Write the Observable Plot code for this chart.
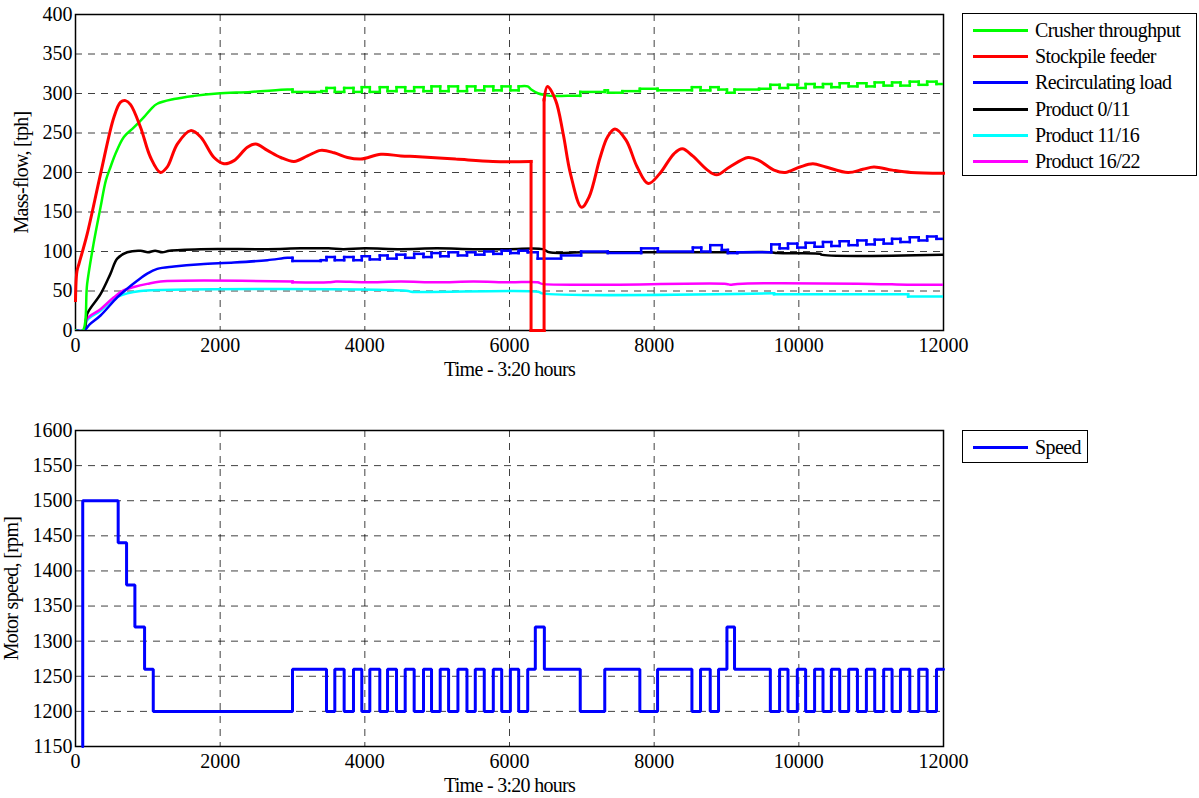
<!DOCTYPE html>
<html><head><meta charset="utf-8">
<script src="https://cdn.jsdelivr.net/npm/d3@7"></script>
<script src="https://cdn.jsdelivr.net/npm/@observablehq/plot@0.6"></script>
<style>
body{margin:0;background:#fff;font-family:"Liberation Serif","Times New Roman",serif;}
#wrap{position:relative;width:1199px;height:798px;overflow:hidden;}
#top{position:absolute;left:0;top:0;}
#bottom{position:absolute;left:0;top:385px;}
#wrap svg text{font-family:"Liberation Serif","Times New Roman",serif;fill:#000;}
#wrap svg g[aria-label$="tick label"] text{font-size:20px;letter-spacing:0px;}
#wrap svg g[aria-label$="axis label"] text{font-size:20px;letter-spacing:-0.7px;}
.legend{position:absolute;border:1.5px solid #000;background:#fff;font-size:20px;letter-spacing:-0.6px;box-sizing:border-box;padding-top:3px;}
.row{display:flex;align-items:center;height:26.3px;white-space:nowrap;}
.sw{width:55px;height:0;border-top:3px solid;margin-left:10px;margin-right:7px;}
</style></head>
<body><div id="wrap"><div id="top"></div><div id="bottom"></div><div class="legend" id="leg1"></div><div class="legend" id="leg2"></div></div>
<script>
// ---- tick values ----
const timeTicks = [0, 2000, 4000, 6000, 8000, 10000, 12000];
const flowTicks = [0, 50, 100, 150, 200, 250, 300, 350, 400];
const speedTicks = [1150, 1200, 1250, 1300, 1350, 1400, 1450, 1500, 1550, 1600];

// ---- series names ----
const flowSeries = ["Crusher throughput", "Stockpile feeder", "Recirculating load", "Product 0/11", "Product 11/16", "Product 16/22"];
const flowColors = ["#00ff00", "#ff0000", "#0000ff", "#000000", "#00ffff", "#ff00ff"];

// ---- values: [time, tph] (repeated time = vertical jump) ----
const crusherThroughput = [[0,0],[100,0],[161,59],[250,110],[346,156],[420,190],[484,207],[554,224],[669,245],[807,257],[946,270],[1040,280],[1130,287],[1361,293],[1638,297],[1961,300],[2422,302],[2930,305],[3000,305],
[3000,302],[3400,302],[3400,303],[3470,303],[3470,307],[3585,307],[3585,302],[3714,302],[3714,307],[3843,307],[3843,302],[3958,302],[3958,308],[4069,308],[4069,302],[4207,302],[4207,308],[4314,308],[4314,303],[4438,303],[4438,308],[4558,308],[4558,303],[4682,303],[4682,308],[4811,308],[4811,303],[4922,303],[4922,309],[5042,309],[5042,303],[5158,303],[5158,309],[5287,309],[5287,303],[5412,303],[5412,309],[5527,309],[5527,304],[5651,304],[5651,309],[5776,309],[5776,304],[5892,304],[5892,309],[6012,309],[6012,304],[6127,304],[6127,309],[6252,309],
[6300,305],[6400,300],[6500,298],[6560,297],[6800,297],[6978,297],[6978,302],[7317,302],[7317,304],[7360,304],[7360,301],[7560,301],[7560,303],[7802,303],[7802,306],[8047,306],[8047,304],[8522,304],[8522,308],[8641,308],[8641,304],[8775,304],[8775,308],[8890,308],[8890,305],[9006,305],[9006,301],[9111,301],[9111,305],[9450,305],[9450,306],[9606,306],
[9606,311],[9734,311],[9734,307],[9850,307],[9850,311],[9979,311],[9979,307],[10094,307],[10094,312],[10218,312],[10218,308],[10334,308],[10334,312],[10450,312],[10450,308],[10565,308],[10565,313],[10689,313],[10689,309],[10810,309],[10810,313],[10934,313],[10934,309],[11049,309],[11049,314],[11173,314],[11173,310],[11289,310],[11289,314],[11405,314],[11405,310],[11534,310],[11534,315],[11658,315],[11658,311],[11774,311],[11774,315],[11903,315],[11903,312],[12000,312]];

const stockpileFeeder = [[0,38],[20,75],[50,85],[161,122],[346,198],[531,270],[623,289],[692,291],[761,286],[900,257],[1038,219],[1176,200],[1269,207],[1407,236],[1592,253],[1730,245],[1915,219],[2053,211],[2191,215],[2376,232],[2491,236],[2653,228],[2838,219],[3022,214],[3207,221],[3391,228],[3576,225],[3760,219],[3945,217],[4222,223],[4498,221],[4747,220],[5258,217],[5770,214],[6298,214],[6298,0],[6478,0],[6478,292],[6525,309],[6639,291],[6742,249],[6844,198],[6997,156],[7100,169],[7253,219],[7355,245],[7458,255],[7611,241],[7765,207],[7918,186],[8072,198],[8276,224],[8389,230],[8532,221],[8737,203],[8864,197],[9043,207],[9299,219],[9453,215],[9657,203],[9811,200],[10015,207],[10194,211],[10373,207],[10680,200],[10885,204],[11038,207],[11294,203],[11550,200],[12000,199]];

const recirculatingLoad = [[0,0],[115,0],[200,8],[346,19],[577,42],[715,53],[853,63],[992,72],[1130,78],[1361,81],[1730,84],[2191,86],[2653,89],[2930,92],[3000,92],[3000,88],[3391,88],[3391,89],[3470,89],
[3470,93],[3585,93],[3585,89],[3714,89],[3714,93],[3843,93],[3843,89],[3958,89],[3958,94],[4069,94],[4069,90],[4207,90],[4207,95],[4314,95],[4314,91],[4438,91],[4438,96],[4558,96],[4558,92],[4682,92],[4682,97],[4811,97],[4811,93],[4922,93],[4922,98],[5042,98],[5042,94],[5158,94],[5158,99],[5287,99],[5287,95],[5412,95],[5412,99],[5527,99],[5527,96],[5651,96],[5651,100],[5776,100],[5776,97],[5892,97],[5892,101],[6012,101],[6012,98],[6127,98],[6127,101],[6252,101],[6252,99],[6390,99],[6390,91],[6713,91],[6713,95],[6990,95],[6990,100],[7359,100],[7359,98],[7820,98],[7820,104],[8051,104],[8051,100],[8535,100],[8535,105],[8651,105],[8651,100],[8775,100],[8775,108],[8935,108],[8935,102],[9019,102],[9019,98],[9150,98],[9150,99],[9619,99],
[9619,109],[9734,109],[9734,104],[9850,104],[9850,110],[9979,110],[9979,105],[10094,105],[10094,111],[10218,111],[10218,106],[10334,106],[10334,112],[10450,112],[10450,107],[10565,107],[10565,113],[10689,113],[10689,108],[10810,108],[10810,114],[10934,114],[10934,109],[11049,109],[11049,115],[11173,115],[11173,110],[11289,110],[11289,116],[11405,116],[11405,112],[11534,112],[11534,118],[11658,118],[11658,114],[11774,114],[11774,119],[11903,119],[11903,116],[12000,116]];

const product0_11 = [[0,0],[115,0],[161,21],[346,46],[484,72],[577,91],[715,99],[900,101],[1000,99],[1100,101],[1200,99],[1300,101],[1730,103],[2653,103],[3114,104],[3500,104],[3700,103],[4000,104],[4500,103],[5000,104],[5500,103],[6000,103],[6460,103],[6551,99],[7000,99],[7500,99],[8000,99],[8500,99],[9000,99],[9619,99],[9700,98],[10300,97],[10311,96],[12000,96]];

const product11_16 = [[0,0],[115,0],[161,13],[346,25],[531,40],[715,47],[900,50],[4600,50],[4640,49],[6400,49],[6450,47],[9657,47],[9657,46],[11511,46],[11511,43],[12000,43]];

const product16_22 = [[0,0],[115,0],[161,15],[346,27],[531,42],[669,51],[807,55],[992,59],[1176,62],[3000,62],[3000,61],[3500,61],[3600,62],[4000,61],[4500,62],[5000,61],[5500,62],[6000,61],[6390,61],[6450,59],[9000,59],[9050,58],[9150,59],[11000,59],[11500,58],[12000,58]];

// ---- motor speed: [time, rpm] (step-after) ----
const motorSpeed = [[100,1150],[100,1500],[590,1440],[706,1380],[821,1320],[955,1260],[1075,1200],[3000,1260],[3470,1200],[3585,1260],[3714,1200],[3843,1260],[3958,1200],[4069,1260],[4207,1200],[4314,1260],[4438,1200],[4558,1260],[4682,1200],[4811,1260],[4922,1200],[5042,1260],[5158,1200],[5287,1260],[5412,1200],[5527,1260],[5651,1200],[5776,1260],[5892,1200],[6012,1260],[6127,1200],[6252,1260],[6357,1320],[6482,1260],[6978,1200],[7317,1260],[7802,1200],[8047,1260],[8522,1200],[8641,1260],[8775,1200],[8890,1260],[9006,1320],[9111,1260],[9606,1200],[9734,1260],[9850,1200],[9979,1260],[10094,1200],[10218,1260],[10334,1200],[10450,1260],[10565,1200],[10689,1260],[10810,1200],[10934,1260],[11049,1200],[11173,1260],[11289,1200],[11405,1260],[11534,1200],[11658,1260],[11774,1200],[11903,1260],[12000,1260]];

const flowData = [crusherThroughput, stockpileFeeder, recirculatingLoad, product0_11, product11_16, product16_22];

// split a series at vertical jumps so smooth runs can be curved and jumps stay straight
function toSegments(points) {
  const rows = []; let seg = 0;
  for (let i = 0; i < points.length; i++) {
    const [t, v] = points[i];
    if (i > 0 && t === points[i - 1][0]) {
      seg++;
      rows.push({t, v: points[i - 1][1], seg}, {t, v, seg});
      seg++;
    }
    rows.push({t, v, seg});
  }
  return rows;
}

const fmt = d => String(d);
const baseStyle = {fontFamily: '"Liberation Serif","Times New Roman",serif', fontSize: "20px", background: "white", color: "black", overflow: "visible"};
const gridOpts = {stroke: "#000", strokeOpacity: 0.75, strokeWidth: 1, strokeDasharray: "7,6"};

const topMarks = [
  Plot.gridX(timeTicks, gridOpts),
  Plot.gridY(flowTicks, gridOpts),
  Plot.axisX({ticks: timeTicks, tickFormat: fmt, tickSize: 0, tickPadding: 7, label: "Time - 3:20 hours", labelAnchor: "center", labelArrow: "none", labelOffset: 45}),
  Plot.axisY({ticks: flowTicks, tickFormat: fmt, tickSize: 0, tickPadding: 3, label: "Mass-flow, [tph]", labelAnchor: "center", labelArrow: "none", labelOffset: 62}),
  Plot.frame({stroke: "black", strokeWidth: 1.5})
];
[4, 5, 3, 2, 0, 1].forEach(i => {
  topMarks.push(Plot.line(toSegments(flowData[i]), {x: "t", y: "v", z: "seg", curve: "catmull-rom", clip: i !== 1,
    stroke: flowColors[i], strokeWidth: i === 1 ? 3 : 2.5, strokeLinecap: "square", strokeLinejoin: "miter"}));
});

const topChart = Plot.plot({
  width: 1199, height: 385,
  marginLeft: 75, marginRight: 256, marginTop: 14, marginBottom: 55,
  style: baseStyle,
  x: {domain: [0, 12000]},
  y: {domain: [0, 400]},
  marks: topMarks
});
document.getElementById("top").appendChild(topChart);

const bottomChart = Plot.plot({
  width: 1199, height: 413,
  marginLeft: 75, marginRight: 256, marginTop: 45, marginBottom: 52,
  style: baseStyle,
  x: {domain: [0, 12000]},
  y: {domain: [1150, 1600]},
  marks: [
    Plot.gridX(timeTicks, gridOpts),
    Plot.gridY(speedTicks, gridOpts),
    Plot.axisX({ticks: timeTicks, tickFormat: fmt, tickSize: 0, tickPadding: 7, label: "Time - 3:20 hours", labelAnchor: "center", labelArrow: "none", labelOffset: 45}),
    Plot.axisY({ticks: speedTicks, tickFormat: fmt, tickSize: 0, tickPadding: 3, label: "Motor speed, [rpm]", labelAnchor: "center", labelArrow: "none", labelOffset: 72}),
    Plot.frame({stroke: "black", strokeWidth: 1.5}),
    Plot.line(motorSpeed, {x: d => d[0], y: d => d[1], curve: "step-after", stroke: "#0000ff", strokeWidth: 3, strokeLinejoin: "miter"})
  ]
});
document.getElementById("bottom").appendChild(bottomChart);

// ---- legends ----
function buildLegend(id, names, colors, left, top, width, height) {
  const el = document.getElementById(id);
  el.style.left = left + "px"; el.style.top = top + "px";
  el.style.width = width + "px"; el.style.height = height + "px";
  names.forEach((n, i) => {
    const row = document.createElement("div"); row.className = "row";
    const sw = document.createElement("span"); sw.className = "sw"; sw.style.borderTopColor = colors[i];
    const tx = document.createElement("span"); tx.textContent = n;
    row.appendChild(sw); row.appendChild(tx); el.appendChild(row);
  });
}
buildLegend("leg1", flowSeries, flowColors, 962, 13, 235, 163);
buildLegend("leg2", ["Speed"], ["#0000ff"], 962, 430, 126, 33);
</script>
</body></html>
